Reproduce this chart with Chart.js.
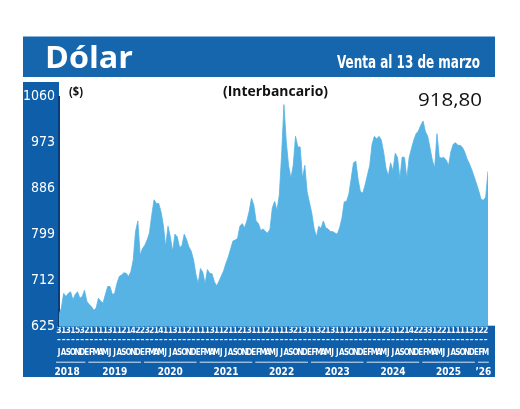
<!DOCTYPE html>
<html>
<head>
  <meta charset="utf-8">
  <title>Dólar</title>
  <script src="https://cdn.jsdelivr.net/npm/chart.js"></script>
  <style>
    body { margin: 0; background: #fff; }
    canvas { display: block; }
  </style>
</head>
<body>
  <canvas id="chart" width="520" height="409"></canvas>

  <script>
    // semi-monthly readings, Jul 2018 .. 13 Mar 2026
    const v2018 = [648, 660, 688, 682, 688, 691, 676, 686, 691, 679, 682, 694];
    const v2019 = [673, 667, 663, 656, 660, 679, 673, 670, 686, 701, 701, 686,
                   688, 707, 720, 723, 727, 726, 720, 729, 751, 805, 825, 760];
    const v2020 = [773, 779, 789, 802, 836, 865, 858, 858, 842, 817, 776, 815,
                   795, 767, 800, 795, 775, 778, 800, 790, 776, 768, 752, 725];
    const v2021 = [706, 735, 728, 706, 733, 726, 725, 710, 702, 711, 721, 731,
                   745, 757, 772, 787, 789, 792, 815, 820, 812, 825, 843, 868];
    const v2022 = [855, 825, 820, 807, 810, 805, 802, 810, 850, 862, 845, 874,
                   950, 1045, 975, 930, 906, 930, 985, 965, 965, 905, 930, 880];
    const v2023 = [860, 840, 811, 795, 815, 811, 825, 812, 810, 805, 805, 802,
                   800, 812, 830, 861, 862, 876, 905, 935, 938, 903, 880, 878];
    const v2024 = [893, 912, 930, 970, 985, 980, 985, 978, 955, 925, 910, 935,
                   920, 953, 945, 905, 946, 945, 905, 945, 962, 978, 990, 995];
    const v2025 = [1006, 1014, 994, 985, 963, 940, 925, 990, 945, 944, 945, 940,
                   930, 956, 970, 973, 968, 968, 964, 955, 942, 933, 922, 909];
    const v2026 = [896, 882, 866, 864, 870, 918.80];

    // axis labels
    const yTicks = [625, 712, 799, 886, 973, 1060];
    const mesesAnio = ['E', 'F', 'M', 'A', 'M', 'J', 'J', 'A', 'S', 'O', 'N', 'D'];
    const monthLetters = [].concat(
      mesesAnio.slice(6),
      mesesAnio, mesesAnio, mesesAnio, mesesAnio, mesesAnio, mesesAnio, mesesAnio,
      mesesAnio.slice(0, 3)
    );
    const monthDigits = ('313153211113112142232141131121' +
                         '11131121121311121111321311321311' +
                         '1211211123112142233122111113122').split('');
    const yearLabels = ['2018', '2019', '2020', '2021', '2022', '2023', '2024', '2025', '\u201926'];
    const yearPos = [3.5, 24, 48, 72, 96, 120, 144, 168, 183];   // in half-months
    const yearEdges = [0, 12, 36, 60, 84, 108, 132, 156, 180, 186];

    const serie = [].concat(v2018, v2019, v2020, v2021, v2022, v2023, v2024, v2025, v2026);
    const points = serie.map((v, i) => ({ x: i, y: v }));
    const lastValue = v2026[v2026.length - 1];

    const NARROW = '"Liberation Sans Narrow", "DejaVu Sans Condensed", sans-serif';
    const TITLE_BLUE = '#1666ae';
    const STRIP_BLUE = '#0f5ea9';
    const AREA_BLUE = '#56b3e4';

    // draw text squeezed/stretched to a given width
    function fitText(c, text, x, y, width, font, color) {
      c.save();
      c.font = font;
      c.fillStyle = color;
      c.textBaseline = 'alphabetic';
      const w = c.measureText(text).width;
      c.translate(x, y);
      c.scale(width / w, 1);
      c.fillText(text, 0, 0);
      c.restore();
    }

    const framePlugin = {
      id: 'frame',
      beforeDraw(chart) {
        const c = chart.ctx;
        const a = chart.chartArea;
        c.save();
        c.fillStyle = '#fff';
        c.fillRect(0, 0, chart.width, chart.height);
        // title bar
        c.fillStyle = TITLE_BLUE;
        c.fillRect(23, 36.5, 472, 40.5);
        // left strip + bottom band
        c.fillStyle = STRIP_BLUE;
        c.fillRect(23, 82, a.left - 23, 295);
        c.fillRect(23, a.bottom - 1, 472, 377 - a.bottom + 1);
        c.restore();
      },
      afterDraw(chart) {
        const c = chart.ctx;
        fitText(c, 'Dólar', 45, 67.5, 88, 'bold 31px "Open Sans", sans-serif', '#fff');
        fitText(c, 'Venta al 13 de marzo', 337, 67.5, 143, 'bold 17px ' + NARROW, '#fff');
        fitText(c, '($)', 69, 96, 14, 'bold 13px "Open Sans", sans-serif', '#111');
        fitText(c, '(Interbancario)', 223, 96, 105, 'bold 15px "Open Sans", sans-serif', '#111');
        fitText(c, lastValue.toFixed(2).replace('.', ','), 418, 106, 64,
                '18px "Open Sans", sans-serif', '#111');

        // underline under each year group
        const sx = chart.scales.xy;
        c.save();
        c.strokeStyle = 'rgba(255,255,255,0.85)';
        c.lineWidth = 1;
        c.beginPath();
        for (let i = 0; i < yearEdges.length - 1; i++) {
          const x0 = sx.getPixelForValue(yearEdges[i]) + (i === 0 ? -3 : 1.5);
          const x1 = sx.getPixelForValue(yearEdges[i + 1]) - 1.5;
          c.moveTo(x0, sx.top + 0.5);
          c.lineTo(x1, sx.top + 0.5);
        }
        c.stroke();
        c.restore();
      }
    };

    const flatGrid = { display: false, drawTicks: false };
    const noBorder = { display: false };

    const ctx = document.getElementById('chart').getContext('2d');
    const chart = new Chart(ctx, {
      type: 'line',
      data: {
        datasets: [{
          data: points,
          borderColor: AREA_BLUE,
          backgroundColor: AREA_BLUE,
          borderWidth: 0.8,
          fill: 'start',
          pointRadius: 0,
          tension: 0
        }]
      },
      options: {
        responsive: false,
        animation: false,
        layout: { padding: { left: 23, right: 32, top: 96.7, bottom: 30.3 } },
        plugins: {
          legend: { display: false },
          tooltip: { enabled: false }
        },
        scales: {
          x: {
            type: 'linear', min: 0, max: 185, weight: 0,
            grid: flatGrid, border: noBorder,
            afterBuildTicks: s => { s.ticks = monthLetters.map((_, i) => ({ value: i * 2 })); },
            afterFit: s => { s.height = 18; },
            ticks: {
              autoSkip: false, maxRotation: 0, minRotation: 0, padding: 0,
              color: '#eef6ff',
              font: { family: NARROW, size: 8.5, weight: 'bold', lineHeight: 1.0 },
              callback: (v, i) => [monthDigits[i], '\u2013']
            }
          },
          xm: {
            type: 'linear', position: 'bottom', min: 0, max: 185, weight: 1,
            grid: flatGrid, border: noBorder,
            afterBuildTicks: s => { s.ticks = monthLetters.map((_, i) => ({ value: i * 2 })); },
            afterFit: s => { s.height = 17; },
            ticks: {
              autoSkip: false, maxRotation: 0, minRotation: 0, padding: 3,
              color: '#fff',
              font: { family: NARROW, size: 8, weight: 'bold' },
              callback: (v, i) => monthLetters[i]
            }
          },
          xy: {
            type: 'linear', position: 'bottom', min: 0, max: 185, weight: 2,
            grid: flatGrid, border: noBorder,
            afterBuildTicks: s => { s.ticks = yearPos.map(v => ({ value: v })); },
            afterFit: s => { s.height = 17; },
            ticks: {
              autoSkip: false, maxRotation: 0, minRotation: 0, padding: 5,
              color: '#fff',
              font: { family: NARROW, size: 10, weight: 'bold' },
              callback: (v, i) => yearLabels[i]
            }
          },
          y: {
            min: 625, max: 1060,
            grid: flatGrid,
            border: { display: true, color: '#0a3e78', width: 2 },
            afterBuildTicks: s => { s.ticks = yTicks.map(v => ({ value: v })); },
            afterFit: s => { s.width = 36; },
            ticks: {
              padding: 4,
              color: '#fff',
              font: { family: NARROW, size: 14 },
              callback: v => String(v)
            }
          }
        }
      },
      plugins: [framePlugin]
    });
  </script>
</body>
</html>
